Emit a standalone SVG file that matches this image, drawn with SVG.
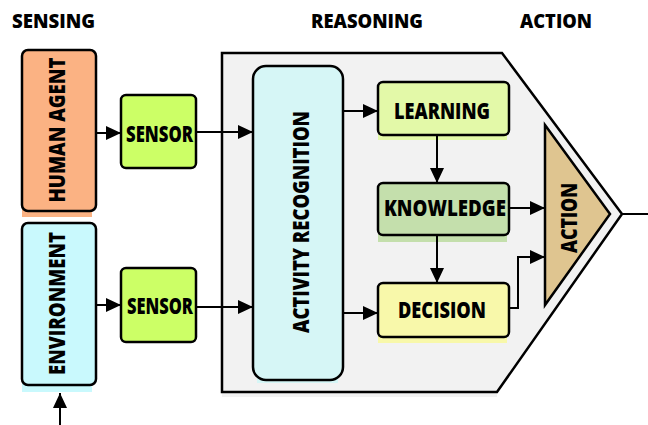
<svg xmlns="http://www.w3.org/2000/svg" width="648" height="425" viewBox="0 0 648 425">
<defs>
<marker id="ah" markerUnits="userSpaceOnUse" markerWidth="16" markerHeight="16" viewBox="0 0 16 16" refX="15" refY="8" orient="auto">
<path d="M0,1 L15,8 L0,15 Z" fill="#000"/>
</marker>
</defs>
<style>
.t{font-family:"Open Sans","Liberation Sans",sans-serif;font-weight:800;fill:#000}
.h{font-size:20px}
.l{font-size:22px}
.b{stroke:#000;stroke-width:2.5}
.c{fill:none;stroke:#000;stroke-width:2}
</style>
<rect width="648" height="425" fill="#fff"/>
<g id="titles">
<text class="t h" x="12" y="28" textLength="83" lengthAdjust="spacingAndGlyphs">SENSING</text>
<text class="t h" x="311" y="28" textLength="112" lengthAdjust="spacingAndGlyphs">REASONING</text>
<text class="t h" x="520" y="28" textLength="72" lengthAdjust="spacingAndGlyphs">ACTION</text>
</g>
<g id="reasoning">
<rect x="222" y="58" width="275" height="339" fill="#F2F2F2"/>
<polygon points="222,53 502,53 622,214 497,392 222,392" fill="#F2F2F2" class="b"/>
</g>
<g id="human-agent">
<rect x="22" y="52" width="70" height="165" fill="#FBB283"/>
<rect x="22" y="50" width="74" height="161" rx="6" fill="#FBB283" class="b"/>
<text class="t l" transform="translate(65,130) rotate(-90)" text-anchor="middle" textLength="145" lengthAdjust="spacingAndGlyphs">HUMAN AGENT</text>
</g>
<g id="environment">
<rect x="22" y="226" width="70" height="166" fill="#C9F9FD"/>
<rect x="22" y="223" width="74" height="162" rx="6" fill="#C9F9FD" class="b"/>
<text class="t l" transform="translate(65,303.5) rotate(-90)" text-anchor="middle" textLength="143" lengthAdjust="spacingAndGlyphs">ENVIRONMENT</text>
</g>
<g id="sensor1">
<rect x="121" y="95" width="75" height="73" rx="5" fill="#CCFF66" class="b"/>
<text class="t l" x="159.5" y="142" text-anchor="middle" textLength="67" lengthAdjust="spacingAndGlyphs">SENSOR</text>
</g>
<g id="sensor2">
<rect x="121" y="268" width="75" height="74" rx="5" fill="#CCFF66" class="b"/>
<text class="t l" x="160" y="314" text-anchor="middle" textLength="66" lengthAdjust="spacingAndGlyphs">SENSOR</text>
</g>
<g id="activity-recognition">
<rect x="257" y="70" width="81" height="313" fill="#D6F6F6"/>
<rect x="253" y="66" width="90" height="314" rx="13" fill="#D6F6F6" class="b"/>
<text class="t l" transform="translate(309,222) rotate(-90)" text-anchor="middle" textLength="222" lengthAdjust="spacingAndGlyphs">ACTIVITY RECOGNITION</text>
</g>
<g id="learning">
<rect x="378" y="86" width="129" height="54" fill="#E3F9A8"/>
<rect x="378" y="82" width="131" height="53" rx="5" fill="#E3F9A8" class="b"/>
<text class="t l" x="442" y="119" text-anchor="middle" textLength="96" lengthAdjust="spacingAndGlyphs">LEARNING</text>
</g>
<g id="knowledge">
<rect x="378" y="187" width="129" height="55" fill="#C4DFAC"/>
<rect x="378" y="183" width="131" height="52" rx="5" fill="#C4DFAC" class="b"/>
<text class="t l" x="445" y="216" text-anchor="middle" textLength="122" lengthAdjust="spacingAndGlyphs">KNOWLEDGE</text>
</g>
<g id="decision">
<rect x="378" y="287" width="129" height="56" fill="#F8F8AA"/>
<rect x="378" y="283" width="131" height="54" rx="5" fill="#F8F8AA" class="b"/>
<text class="t l" x="442" y="318" text-anchor="middle" textLength="88" lengthAdjust="spacingAndGlyphs">DECISION</text>
</g>
<g id="action">
<polygon points="545,125 610,214 545,305" fill="#DFC590" class="b" stroke-linejoin="miter"/>
<text class="t l" transform="translate(577,218) rotate(-90)" text-anchor="middle" textLength="70" lengthAdjust="spacingAndGlyphs">ACTION</text>
</g>
<g id="connectors">
<line class="c" x1="96" y1="133" x2="121" y2="133" marker-end="url(#ah)"/>
<line class="c" x1="96" y1="305" x2="121" y2="305" marker-end="url(#ah)"/>
<line class="c" x1="60" y1="425" x2="60" y2="393" marker-end="url(#ah)"/>
<line class="c" x1="196" y1="132" x2="253" y2="132" marker-end="url(#ah)"/>
<line class="c" x1="196" y1="307" x2="253" y2="307" marker-end="url(#ah)"/>
<line class="c" x1="343" y1="111" x2="378" y2="111" marker-end="url(#ah)"/>
<line class="c" x1="343" y1="313" x2="378" y2="313" marker-end="url(#ah)"/>
<line class="c" x1="437" y1="135" x2="437" y2="183" marker-end="url(#ah)"/>
<line class="c" x1="437" y1="235" x2="437" y2="283" marker-end="url(#ah)"/>
<line class="c" x1="509" y1="208" x2="545" y2="208" marker-end="url(#ah)"/>
<polyline class="c" points="509,308 518,308 518,257 545,257" marker-end="url(#ah)"/>
<line class="c" x1="622" y1="214" x2="648" y2="214"/>
</g>
</svg>
